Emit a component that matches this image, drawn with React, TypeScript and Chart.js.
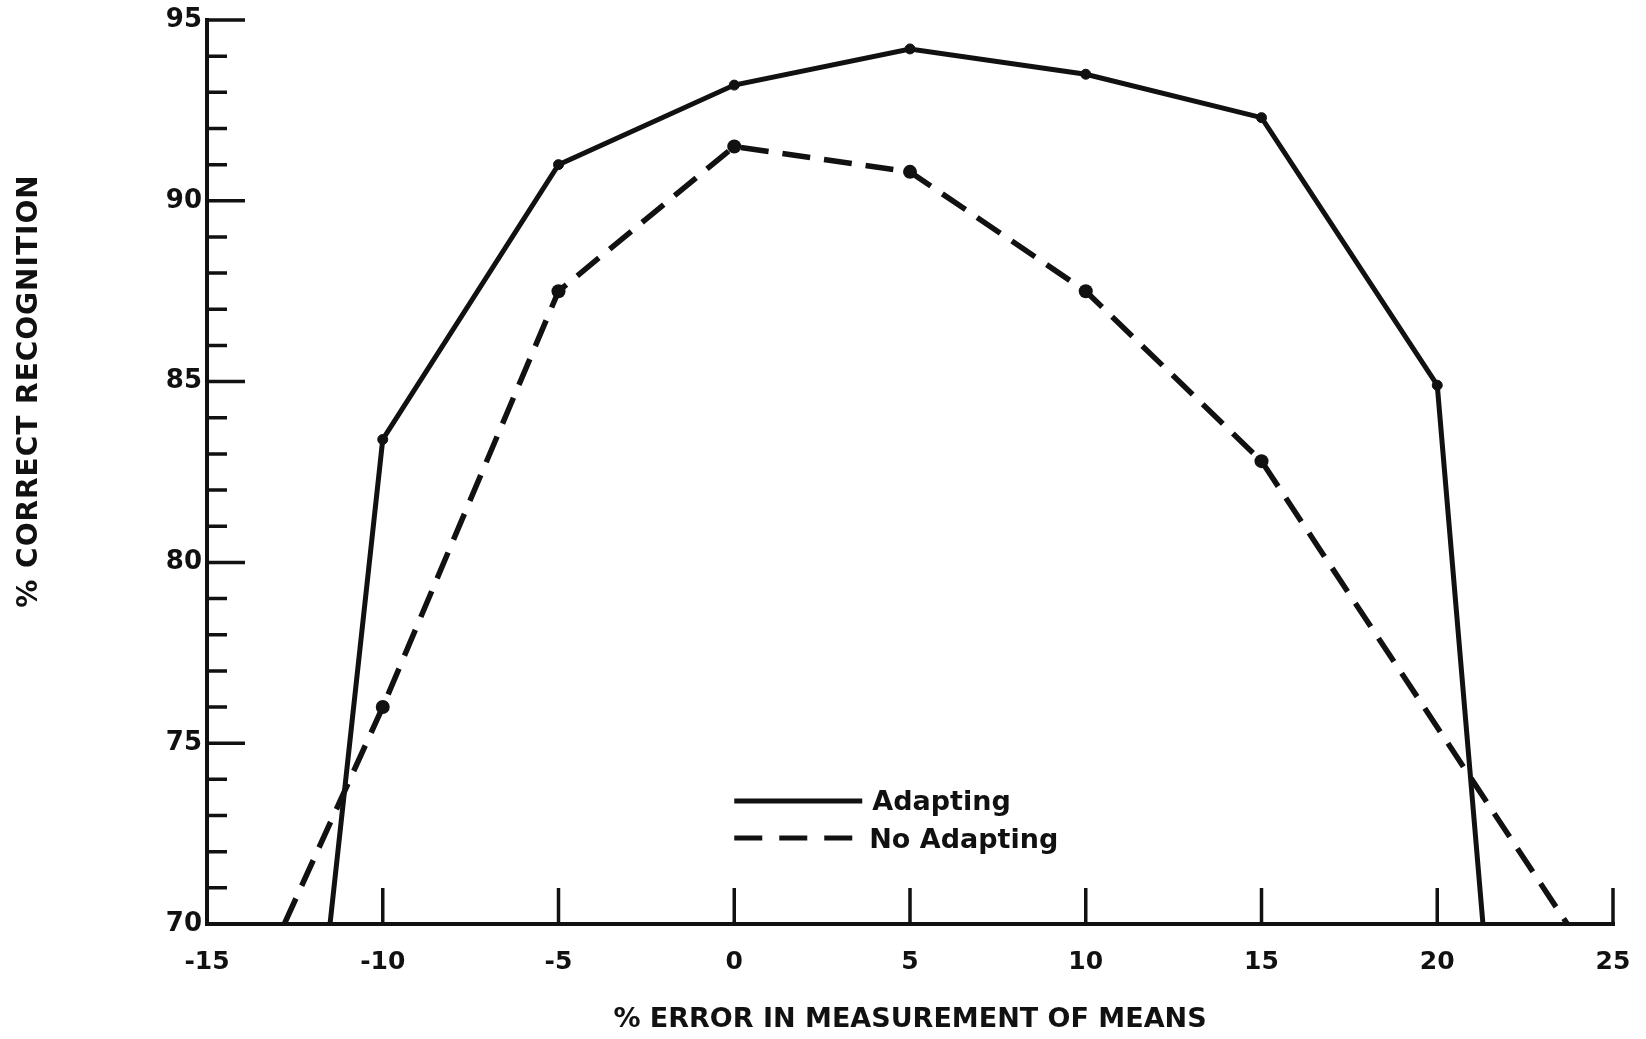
import React, { useEffect, useRef } from "react";
import { Chart, registerables } from "chart.js";

Chart.register(...registerables);

// Percent error in measurement of the means (x) against percent correct recognition (y)
const errorTicks = [-10, -5, 0, 5, 10, 15, 20, 25];
const adaptingX = [-11.5, -10, -5, 0, 5, 10, 15, 20, 21.3];
const adaptingY = [70, 83.4, 91.0, 93.2, 94.2, 93.5, 92.3, 84.9, 70];
const adaptingMarked = [false, true, true, true, true, true, true, true, false];
const noAdaptingX = [-12.8, -10, -5, 0, 5, 10, 15, 23.7];
const noAdaptingY = [70, 76.0, 87.5, 91.5, 90.8, 87.5, 82.8, 70];
const noAdaptingMarked = [false, true, true, true, true, true, true, false];
const seriesLabels = ["Adapting", "No Adapting"];
const xTitle = "% ERROR IN MEASUREMENT OF MEANS";
const yTitle = "% CORRECT RECOGNITION";

const INK = "#111111";
const FONT = "DejaVu Sans";

const toPoints = (xs: number[], ys: number[]) => xs.map((x, i) => ({ x, y: ys[i] }));

// Axis lines with inward ticks (minor every unit on y, major every 5)
const framePlugin = {
  id: "plotFrame",
  beforeDatasetsDraw(chart: any) {
    const { ctx, chartArea: a, scales } = chart;
    const x = scales.x;
    const y = scales.y;
    ctx.save();
    ctx.strokeStyle = INK;
    ctx.lineWidth = 4;
    ctx.beginPath();
    ctx.moveTo(a.left, a.top - 2);
    ctx.lineTo(a.left, a.bottom + 2);
    ctx.moveTo(a.left - 2, a.bottom);
    ctx.lineTo(a.right + 2, a.bottom);
    ctx.stroke();
    ctx.lineWidth = 3.5;
    ctx.beginPath();
    for (let v = y.min + 1; v <= y.max; v++) {
      const py = y.getPixelForValue(v);
      const len = v % 5 === 0 ? 38 : 20;
      ctx.moveTo(a.left, py);
      ctx.lineTo(a.left + len, py);
    }
    for (const v of errorTicks) {
      const px = x.getPixelForValue(v);
      ctx.moveTo(px, a.bottom);
      ctx.lineTo(px, a.bottom - 36);
    }
    ctx.stroke();
    ctx.restore();
  },
  afterDraw(chart: any) {
    const { ctx, chartArea: a, scales } = chart;
    const x = scales.x;
    const y = scales.y;
    ctx.save();
    ctx.fillStyle = INK;
    ctx.strokeStyle = INK;

    // Axis titles
    ctx.font = `bold 27px "${FONT}"`;
    ctx.textAlign = "center";
    ctx.textBaseline = "alphabetic";
    ctx.fillText(xTitle, (a.left + a.right) / 2, 1027);
    ctx.save();
    ctx.translate(37, 391);
    ctx.rotate(-Math.PI / 2);
    ctx.font = `bold 28px "${FONT}"`;
    (ctx as any).letterSpacing = "1px";
    ctx.fillText(yTitle, 0, 0);
    ctx.restore();

    // Legend inside the plot
    const lx = x.getPixelForValue(0);
    const ly = y.getPixelForValue(73.4);
    ctx.lineWidth = 5;
    ctx.lineCap = "butt";
    ctx.beginPath();
    ctx.moveTo(lx, ly);
    ctx.lineTo(lx + 128, ly);
    ctx.stroke();
    ctx.setLineDash([28, 17]);
    ctx.beginPath();
    ctx.moveTo(lx, ly + 37);
    ctx.lineTo(lx + 128, ly + 37);
    ctx.stroke();
    ctx.setLineDash([]);
    ctx.font = `bold 27px "${FONT}"`;
    ctx.textAlign = "left";
    ctx.fillText(seriesLabels[0], lx + 138, ly + 9);
    ctx.fillText(seriesLabels[1], lx + 135, ly + 47);
    ctx.restore();
  },
};

export default function App() {
  const canvasRef = useRef<HTMLCanvasElement | null>(null);

  useEffect(() => {
    document.body.style.margin = "0";
    document.body.style.overflow = "hidden";
    const canvas = canvasRef.current;
    if (!canvas) return;

    const chart = new Chart(canvas, {
      type: "scatter",
      data: {
        datasets: [
          {
            label: seriesLabels[0],
            data: toPoints(adaptingX, adaptingY),
            showLine: true,
            borderColor: INK,
            borderWidth: 5,
            tension: 0,
            pointRadius: adaptingMarked.map((m) => (m ? 5 : 0)),
            pointBackgroundColor: INK,
            pointBorderColor: INK,
            pointBorderWidth: 1,
          },
          {
            label: seriesLabels[1],
            data: toPoints(noAdaptingX, noAdaptingY),
            showLine: true,
            borderColor: INK,
            borderWidth: 5.5,
            borderDash: [28, 14],
            borderCapStyle: "butt",
            tension: 0,
            pointRadius: noAdaptingMarked.map((m) => (m ? 7 : 0)),
            pointBackgroundColor: INK,
            pointBorderColor: INK,
            pointBorderWidth: 0,
          },
        ],
      },
      options: {
        animation: false,
        responsive: false,
        devicePixelRatio: 1,
        layout: { padding: { top: 20, right: 33, left: 0, bottom: 0 } },
        plugins: {
          legend: { display: false },
          tooltip: { enabled: false },
        },
        scales: {
          x: {
            type: "linear",
            min: -15,
            max: 25,
            afterFit: (scale: any) => {
              scale.height = 115;
              scale.paddingLeft = 0;
              scale.paddingRight = 0;
            },
            grid: { display: false, drawTicks: false },
            border: { display: false },
            ticks: {
              stepSize: 5,
              color: INK,
              font: { family: FONT, weight: "bold", size: 25 },
              padding: 23,
              autoSkip: false,
              maxRotation: 0,
            },
          },
          y: {
            type: "linear",
            min: 70,
            max: 95,
            afterFit: (scale: any) => {
              scale.width = 207;
              scale.paddingTop = 0;
              scale.paddingBottom = 0;
            },
            grid: { display: false, drawTicks: false },
            border: { display: false },
            ticks: {
              stepSize: 5,
              color: INK,
              font: { family: FONT, weight: "bold", size: 26 },
              padding: 5,
            },
          },
        },
      },
      plugins: [framePlugin],
    });

    return () => chart.destroy();
  }, []);

  return (
    <div style={{ width: 1646, height: 1039, background: "#ffffff" }}>
      <canvas ref={canvasRef} width={1646} height={1039} style={{ display: "block" }} />
    </div>
  );
}
